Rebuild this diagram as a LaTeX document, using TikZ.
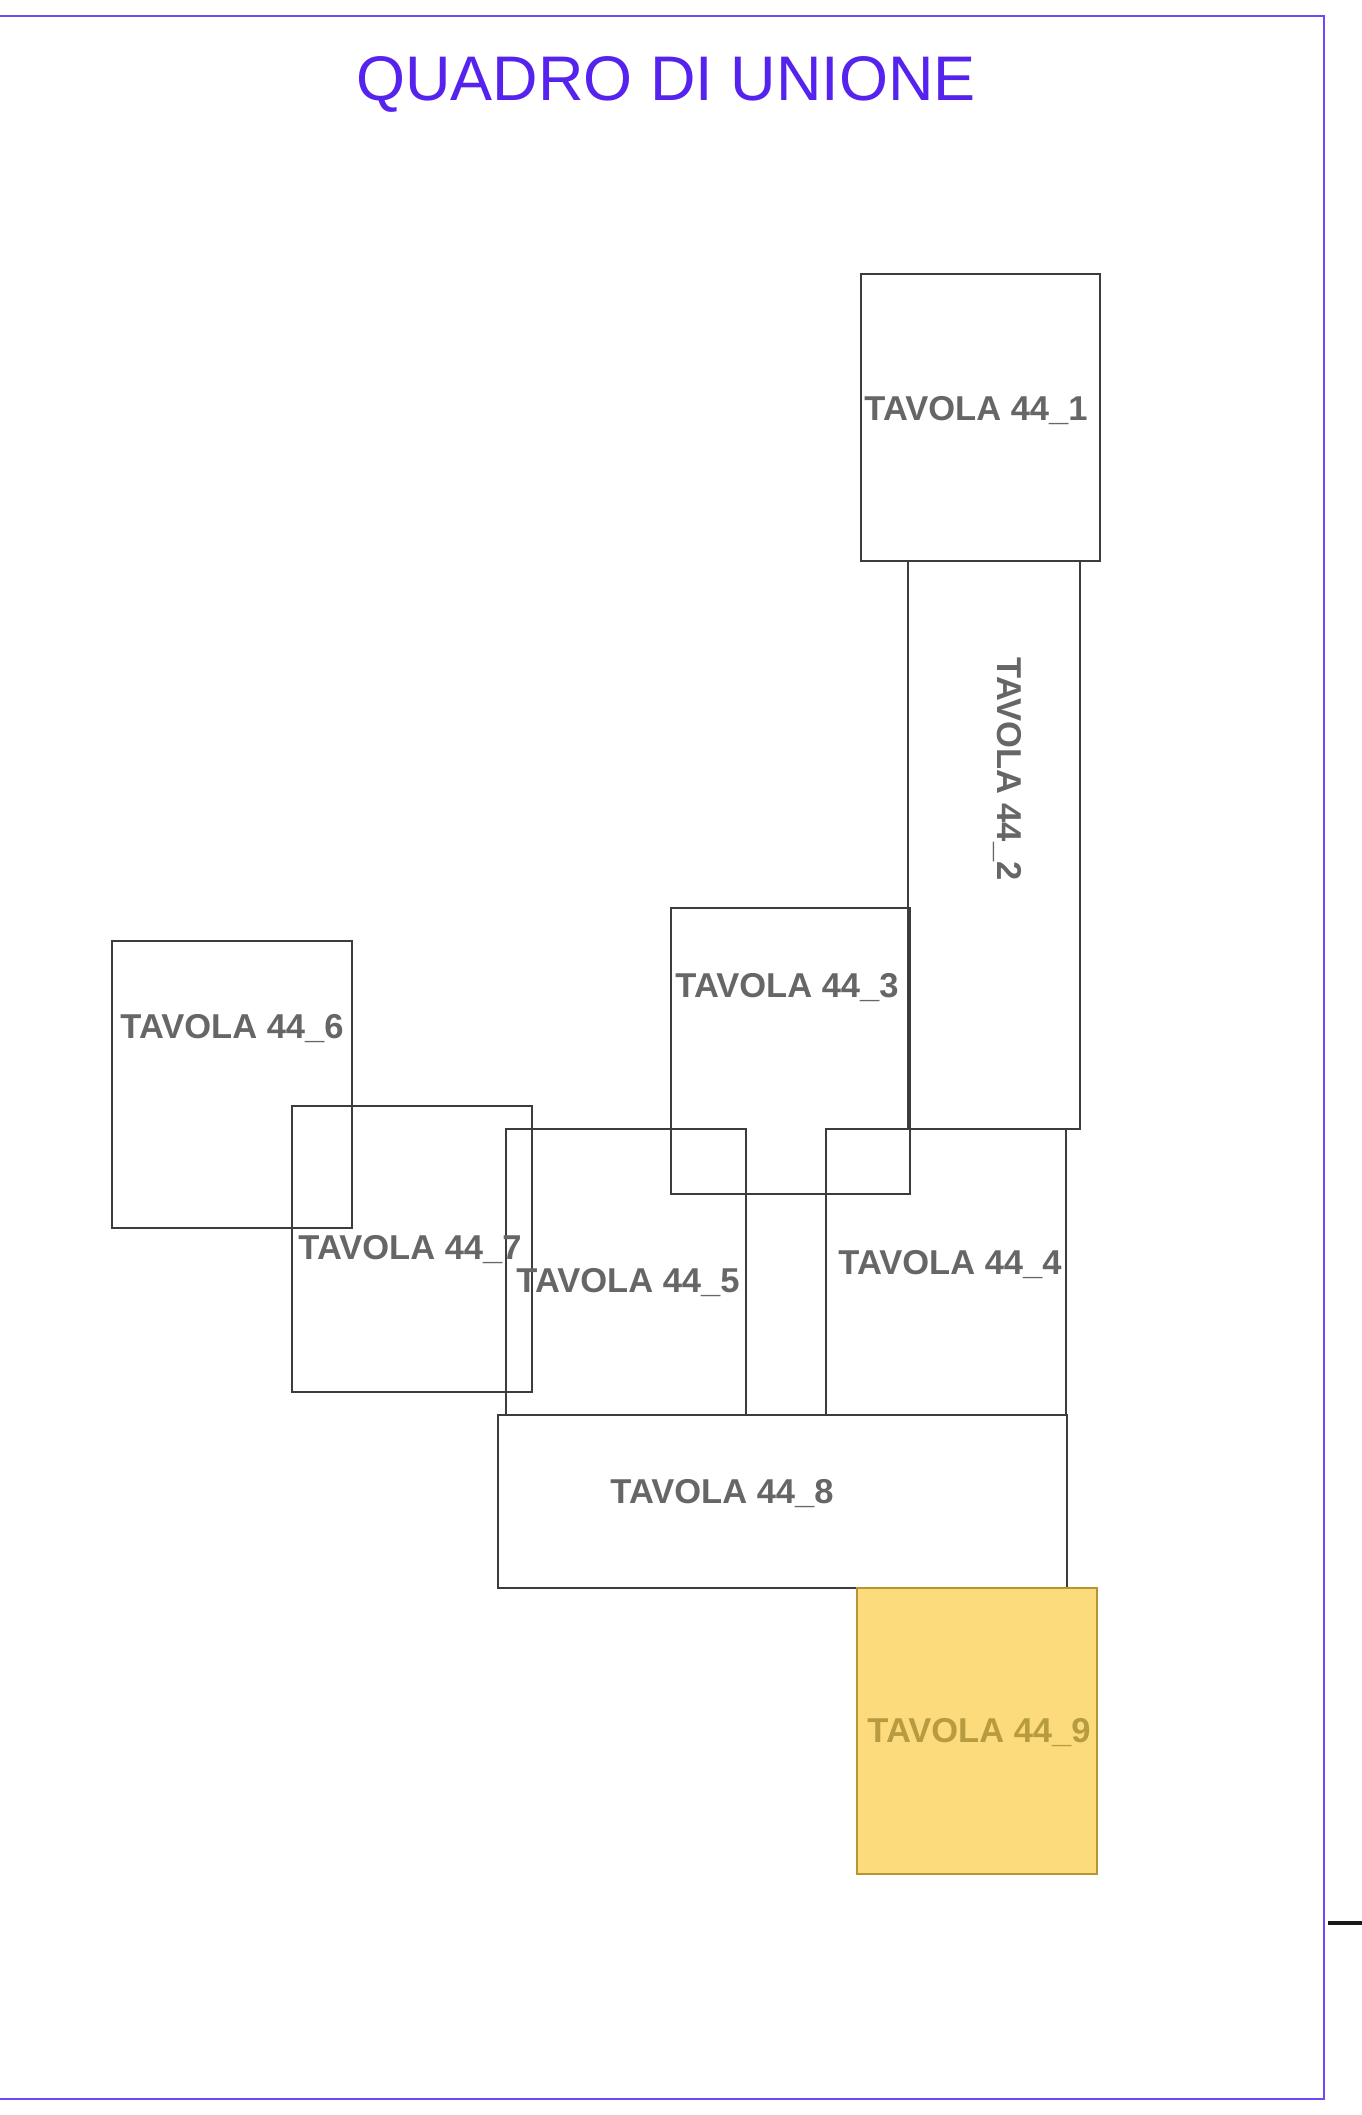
\documentclass[tikz,border=0pt]{standalone}
\usepackage{fontspec}
\setmainfont{Liberation Sans}
\definecolor{framecol}{RGB}{112,72,245}
\definecolor{titlecol}{RGB}{85,34,238}
\definecolor{tilecol}{RGB}{60,60,60}
\definecolor{labelcol}{RGB}{102,102,102}
\definecolor{hlfill}{RGB}{252,219,124}
\definecolor{hledge}{RGB}{180,150,50}
\definecolor{hltext}{RGB}{183,155,64}
\tikzset{
  tile/.style={draw=tilecol, line width=1.1pt, inner sep=0pt, outer sep=0pt},
  hltile/.style={tile, draw=hledge, fill=hlfill},
  tlabel/.style={text=labelcol, font=\fontsize{34.5}{34.5}\selectfont\bfseries, inner sep=0pt, anchor=base},
}
\begin{document}
\begin{tikzpicture}[x=1pt,y=-1pt]
\useasboundingbox[fill=white] (0,0) rectangle (1362,2115);
% frame
\draw[framecol, line width=2pt] (-5,16) -- (1324,16) -- (1324,2099) -- (-5,2099);
\node[text=titlecol, font=\fontsize{63}{63}\selectfont, anchor=base, inner sep=0pt] (title) at (666,100) {QUADRO DI UNIONE};
% tiles
\node[tile, minimum width=239pt, minimum height=287pt] (t1) at (980.5,417.5) {};
\node[tile, minimum width=172pt, minimum height=568pt] (t2) at (994,845) {};
\node[tile, minimum width=240pt, minimum height=287pt] (t6) at (232,1084.5) {};
\node[tile, minimum width=240pt, minimum height=286pt] (t7) at (412,1249) {};
\node[tile, minimum width=240pt, minimum height=286pt] (t5) at (626,1272) {};
\node[tile, minimum width=240pt, minimum height=286pt] (t4) at (946,1272) {};
\node[tile, minimum width=239pt, minimum height=286pt] (t3) at (790.5,1051) {};
\node[tile, minimum width=569pt, minimum height=173pt] (t8) at (782.5,1501.5) {};
\node[hltile, minimum width=240pt, minimum height=286pt] (t9) at (977,1731) {};
% labels
\node[tlabel] (l1) at (976,420) {TAVOLA 44\_1};
\node[tlabel, anchor=center, rotate=-90] (l2) at (1007,769) {TAVOLA 44\_2};
\node[tlabel] (l3) at (787,997) {TAVOLA 44\_3};
\node[tlabel] (l4) at (950,1274) {TAVOLA 44\_4};
\node[tlabel] (l5) at (628,1292) {TAVOLA 44\_5};
\node[tlabel] (l6) at (232,1038) {TAVOLA 44\_6};
\node[tlabel] (l7) at (410,1259) {TAVOLA 44\_7};
\node[tlabel] (l8) at (722,1503) {TAVOLA 44\_8};
\node[tlabel, text=hltext] (l9) at (979,1742) {TAVOLA 44\_9};
% tick mark
\coordinate (tickA) at (1328,1923);
\coordinate (tickB) at (1362,1923);
\draw[black!90, line width=4pt] (tickA) -- (tickB);
\end{tikzpicture}
\end{document}
